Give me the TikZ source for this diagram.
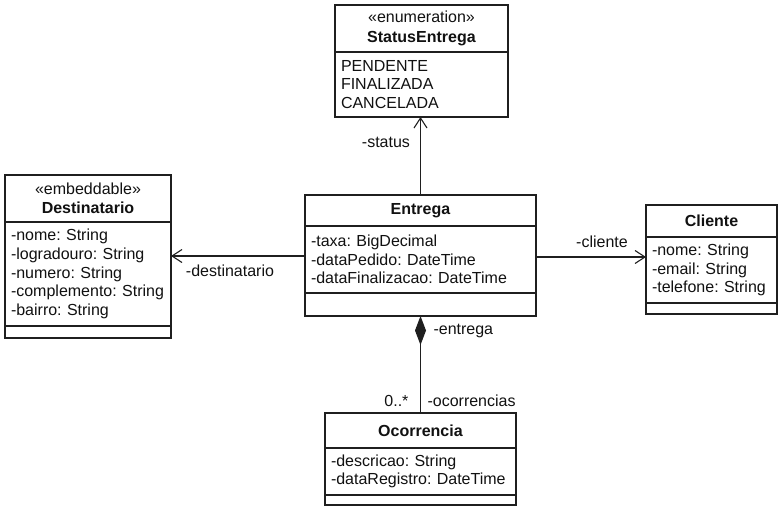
\documentclass[tikz,border=0pt]{standalone}
\usepackage{fontspec}
\setmainfont{Liberation Sans}
\usepackage{tikz}
\usetikzlibrary{positioning,arrows.meta}
\definecolor{umlLine}{HTML}{1F1F1F}
\definecolor{umlText}{HTML}{111111}
\tikzset{
  classhead/.style={rectangle,draw=umlLine,line width=1.2pt,fill=white,
    outer sep=0pt,inner sep=3pt,align=center,text=umlText,
    font=\fontsize{16}{19.5}\selectfont},
  classbody/.style={rectangle,draw=umlLine,line width=1.2pt,fill=white,
    outer sep=0pt,inner xsep=6pt,inner ysep=0pt,align=left,text=umlText,
    font=\fontsize{16}{18.7}\selectfont\frenchspacing},
  classops/.style={rectangle,draw=umlLine,line width=1.2pt,fill=white,
    outer sep=0pt,inner sep=0pt},
  assoc/.style={-{Straight Barb[length=10pt,width=13pt]},line width=1.1pt,draw=umlLine},
  compo/.style={{Diamond[length=29pt,width=11pt]}-,line width=1.1pt,draw=umlLine},
  role/.style={font=\fontsize{16}{18.7}\selectfont,text=umlText,inner sep=2pt}
}

\begin{document}
\begin{tikzpicture}[x=1pt,y=-1pt]
\useasboundingbox (0,0) rectangle (783,511);

\node[classhead, minimum width=173pt, minimum height=47pt, anchor=north west] (status) at (335,5) {«enumeration»\\\textbf{StatusEntrega}};
\node[classbody, text width=161pt, minimum height=65pt, below=0pt of status] (status-body) {PENDENTE\\FINALIZADA\\CANCELADA};

\node[classhead, minimum width=231pt, minimum height=31pt, anchor=north west] (entrega) at (305,195) {\textbf{Entrega}};
\node[classbody, text width=219pt, minimum height=67pt, below=0pt of entrega] (entrega-body) {-taxa: BigDecimal\\-dataPedido: DateTime\\-dataFinalizacao: DateTime};
\node[classops, minimum width=231pt, minimum height=23pt, below=0pt of entrega-body] (entrega-ops) {};

\node[classhead, minimum width=166pt, minimum height=47pt, anchor=north west] (destinatario) at (5,175) {«embeddable»\\\textbf{Destinatario}};
\node[classbody, text width=154pt, minimum height=104pt, below=0pt of destinatario] (destinatario-body) {-nome: String\\-logradouro: String\\-numero: String\\-complemento: String\\-bairro: String};
\node[classops, minimum width=166pt, minimum height=12pt, below=0pt of destinatario-body] (destinatario-ops) {};

\node[classhead, minimum width=131pt, minimum height=32pt, anchor=north west] (cliente) at (646,205) {\textbf{Cliente}};
\node[classbody, text width=119pt, minimum height=66pt, below=0pt of cliente] (cliente-body) {-nome: String\\-email: String\\-telefone: String};
\node[classops, minimum width=131pt, minimum height=11pt, below=0pt of cliente-body] (cliente-ops) {};

\node[classhead, minimum width=191pt, minimum height=35pt, anchor=north west] (ocorrencia) at (325,413) {\textbf{Ocorrencia}};
\node[classbody, text width=179pt, minimum height=47pt, below=0pt of ocorrencia] (ocorrencia-body) {-descricao: String\\-dataRegistro: DateTime};
\node[classops, minimum width=191pt, minimum height=10pt, below=0pt of ocorrencia-body] (ocorrencia-ops) {};

% associations
\coordinate (dst) at ([yshift=3.5pt]entrega-body.west);
\coordinate (cst) at ([yshift=2.5pt]entrega-body.east);
\draw[assoc] (entrega.north) -- (entrega.north |- status-body.south)
  node[role, pos=0.68, anchor=east, xshift=-8pt] {-status};
\draw[assoc] (dst) -- (dst -| destinatario-body.east)
  node[role, pos=0.56, below, yshift=-6pt] {-destinatario};
\draw[assoc] (cst) -- (cst -| cliente-body.west)
  node[role, pos=0.6, above, yshift=7pt] {-cliente};
% composition
\draw[compo] (entrega-ops.south) -- (ocorrencia.north)
  node[role, pos=0.155, anchor=west, xshift=10.5pt] {-entrega}
  node[role, pos=0.876, anchor=west, xshift=4.5pt] {-ocorrencias}
  node[role, pos=0.876, anchor=east, xshift=-9.5pt] {0..*};
\end{tikzpicture}
\end{document}
